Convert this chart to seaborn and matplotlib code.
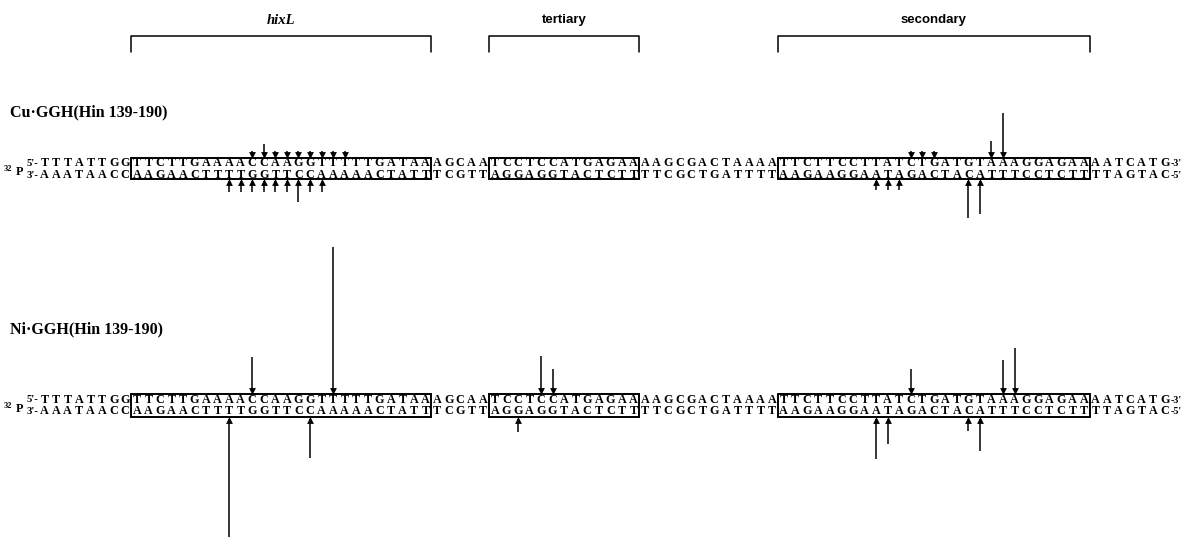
import numpy as np
import pandas as pd
import matplotlib
matplotlib.use("Agg")
import matplotlib.pyplot as plt
import seaborn as sns

# strands, 5'->3' on top, read left to right
top_strand = "TTTATTGGTTCTTGAAAACCAAGGTTTTTGATAAAGCAATCCTCCATGAGAAAAGCGACTAAAATTCTTCCTTATCTGATGTAAAGGAGAAAATCATG"
bottom_strand = "AAATAACCAAGAACTTTTGGTTCCAAAAACTATTTCGTTAGGAGGTACTCTTTTCGCTGATTTTAAGAAGGAATAGACTACATTTCCTCTTTTAGTAC"

# boxed sites (nucleotide index start, end)
site_names = ["hixL", "tertiary", "secondary"]
site_start = [8, 39, 64]
site_end = [34, 52, 91]

# cleavage arrows: nucleotide index and arrow length (px)
cu_top_pos = [18, 19, 20, 21, 22, 23, 24, 25, 26, 75, 76, 77, 82, 83]
cu_top_len = [7, 14, 7, 7, 7, 7, 7, 7, 7, 7, 7, 7, 17, 45]
cu_bot_pos = [16, 17, 18, 19, 20, 21, 22, 23, 24, 72, 73, 74, 80, 81]
cu_bot_len = [13, 13, 13, 13, 13, 13, 23, 13, 13, 11, 11, 11, 39, 35]

ni_top_pos = [18, 25, 43, 44, 75, 83, 84]
ni_top_len = [37, 147, 38, 25, 25, 34, 46]
ni_bot_pos = [16, 23, 41, 72, 73, 80, 81]
ni_bot_len = [120, 41, 15, 42, 27, 14, 34]

panel_labels = ["Cu\u00b7GGH(Hin 139-190)", "Ni\u00b7GGH(Hin 139-190)"]

sns.set_theme(style="white")
plt.rcParams["font.family"] = ["Liberation Serif", "DejaVu Serif"]
plt.rcParams["text.color"] = "black"

W, H = 1185, 547
CH = 11.55  # px per nucleotide
X0 = 131
def px2i(px):
    return (px - X0) / CH + 8

fig = plt.figure(figsize=(W / 100, H / 100), dpi=100)
ax = fig.add_axes([0, 0, 1, 1])
ax.set_xlim(px2i(0), px2i(W))
ax.set_ylim(H, 0)
ax.axis("off")

SEQ_FS = 8.7

# header brackets
for name, s, e in zip(site_names, site_start, site_end):
    ax.plot([s, s, e, e], [52, 36, 36, 52], color="black", lw=1.1)
    if name == "hixL":
        ax.text((s + e) / 2, 20, name, ha="center", va="center", fontsize=10.5,
                fontweight="bold", style="italic")
    else:
        ax.text((s + e) / 2, 20, name, ha="center", va="center", fontsize=9.5,
                fontweight="bold", family=["Liberation Sans Narrow", "Liberation Sans", "DejaVu Sans"])


def draw_row(base_top, base_bot, box_top, box_bot, label, label_y,
             tpos, tlen, bpos, blen):
    ax.text(px2i(10), label_y, label, ha="left", va="center", fontsize=11.5,
            fontweight="bold")
    for i, (a, b) in enumerate(zip(top_strand, bottom_strand)):
        ax.text(i + 0.5, base_top, a, ha="center", va="baseline", fontsize=SEQ_FS,
                fontweight="bold")
        ax.text(i + 0.5, base_bot, b, ha="center", va="baseline", fontsize=SEQ_FS,
                fontweight="bold")
    n = len(top_strand)
    ax.text(0, base_top - 1, "5'-", ha="right", va="baseline", fontsize=SEQ_FS - 1, fontweight="bold")
    ax.text(0, base_bot, "3'-", ha="right", va="baseline", fontsize=SEQ_FS - 1, fontweight="bold")
    ax.text(n, base_top, "-3'", ha="left", va="baseline", fontsize=SEQ_FS - 1.5, fontweight="bold")
    ax.text(n, base_bot, "-5'", ha="left", va="baseline", fontsize=SEQ_FS - 1.5, fontweight="bold")
    ax.text(px2i(15.5), (base_top + base_bot) / 2, "P", ha="left", va="center",
            fontsize=SEQ_FS, fontweight="bold")
    ax.text(px2i(4), (base_top + base_bot) / 2 - 3, "32", ha="left", va="center",
            fontsize=6, fontweight="bold")
    for s, e in zip(site_start, site_end):
        ax.add_patch(plt.Rectangle((s, box_top), e - s, box_bot - box_top,
                                   fill=False, ec="black", lw=1.4))

    # arrows onto top strand, pointing down
    t = pd.DataFrame({"x": np.array(tpos) + 0.5, "len": tlen})
    ax.vlines(t["x"], box_top - t["len"], box_top - 2, color="black", lw=1.1)
    sns.scatterplot(x=t["x"], y=np.full(len(t), box_top - 3), marker="v",
                    s=24, color="black", ax=ax, linewidth=0, legend=False)
    # arrows onto bottom strand, pointing up
    b = pd.DataFrame({"x": np.array(bpos) + 0.5, "len": blen})
    ax.vlines(b["x"], box_bot + 2, box_bot + b["len"], color="black", lw=1.1)
    sns.scatterplot(x=b["x"], y=np.full(len(b), box_bot + 3), marker="^",
                    s=24, color="black", ax=ax, linewidth=0, legend=False)


draw_row(166.5, 177.5, 157.5, 178.5, panel_labels[0], 112,
         cu_top_pos, cu_top_len, cu_bot_pos, cu_bot_len)
draw_row(403, 414, 394, 416.5, panel_labels[1], 329,
         ni_top_pos, ni_top_len, ni_bot_pos, ni_bot_len)

ax.set_xlim(px2i(0), px2i(W))
ax.set_ylim(H, 0)
fig.savefig("out.png", dpi=100, facecolor="white")
